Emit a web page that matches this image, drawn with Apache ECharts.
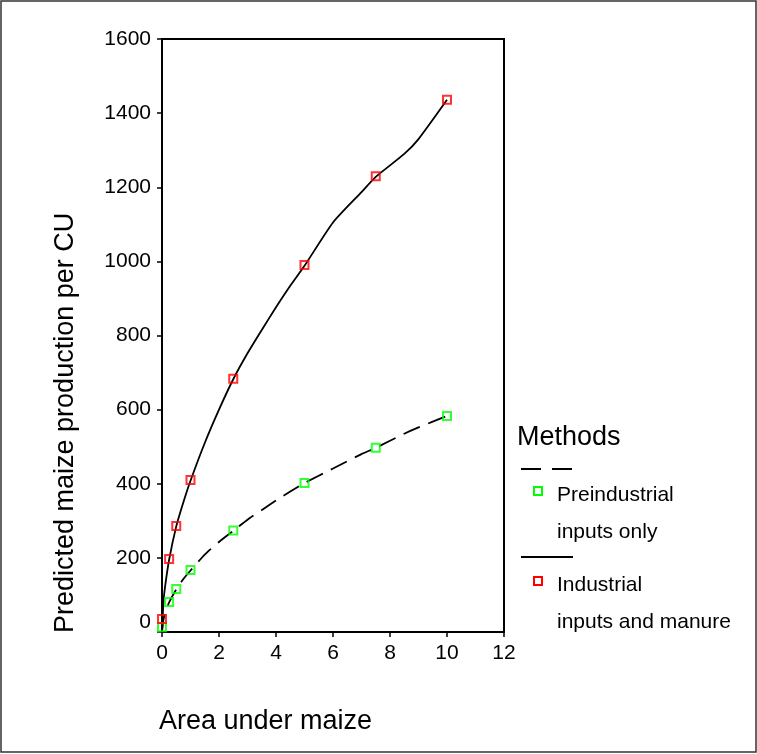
<!DOCTYPE html>
<html>
<head>
<meta charset="utf-8">
<script src="https://cdn.jsdelivr.net/npm/echarts@6/dist/echarts.min.js"></script>
<style>
html,body{margin:0;padding:0;background:#fff;}
#chart{width:757px;height:754px;}
</style>
</head>
<body>
<div id="chart"></div>
<script>
// Observed points
const xValues = [0, 0.25, 0.5, 1, 2.5, 5, 7.5, 10];
const industrial = [35, 197, 286, 410, 683, 990, 1230, 1436];
const preindustrial = [13, 81, 116, 167, 274, 402, 497, 583];
// Fitted curves
const fitX = [0, 0.05, 0.1, 0.25, 0.5, 0.75, 1, 1.5, 2, 2.5, 3, 3.5, 4, 4.5, 5, 6, 7, 7.5, 8.5, 9, 10];
const industrialFit = [0, 80, 118, 195, 285, 350, 408, 510, 600, 682, 752, 815, 876, 934, 988, 1105, 1187, 1228, 1290, 1330, 1436];
const preindustrialFit = [0, 33, 48, 80, 115, 143, 166, 209, 243, 273, 303, 329, 355, 379, 402, 441, 480, 497, 535, 552, 583];
// Axis ticks
const xTicks = [0, 2, 4, 6, 8, 10, 12];
const yTicks = [0, 200, 400, 600, 800, 1000, 1200, 1400, 1600];
const seriesNames = ['Preindustrial inputs only', 'Industrial inputs and manure'];

const FONT = "'Liberation Sans', Arial, sans-serif";
const pair = (xs, ys) => xs.map((x, i) => [x, ys[i]]);

const chart = echarts.init(document.getElementById('chart'), null, {renderer: 'canvas'});
chart.setOption({
  animation: false,
  backgroundColor: '#fff',
  textStyle: {fontFamily: FONT, color: '#000'},
  grid: {left: 162, top: 39, right: 253, bottom: 122, show: true, borderColor: '#000', borderWidth: 2, backgroundColor: 'transparent'},
  xAxis: {
    type: 'value', min: xTicks[0], max: xTicks[xTicks.length - 1], interval: 2,
    axisLine: {show: true, onZero: false, lineStyle: {color: '#000', width: 2}},
    axisTick: {show: true, length: 5, lineStyle: {color: '#000', width: 1.5}},
    axisLabel: {fontSize: 21, color: '#000', margin: 11, fontFamily: FONT},
    splitLine: {show: false}
  },
  yAxis: {
    type: 'value', min: yTicks[0], max: yTicks[yTicks.length - 1], interval: 200,
    axisLine: {show: true, onZero: false, lineStyle: {color: '#000', width: 2}},
    axisTick: {show: true, length: 5, lineStyle: {color: '#000', width: 1.5}},
    axisLabel: {
      fontSize: 21, color: '#000', margin: 11, fontFamily: FONT,
      formatter: v => v === 0 ? '{z|0}' : String(v),
      rich: {z: {fontSize: 21, fontFamily: FONT, color: '#000', padding: [0, 0, 20, 0]}}
    },
    splitLine: {show: false}
  },
  series: [
    {
      name: seriesNames[0] + ' fit', type: 'line', data: pair(fitX, preindustrialFit),
      smooth: 0.2, showSymbol: false, symbol: 'none',
      lineStyle: {color: '#000', width: 1.8, type: [18, 9]}, z: 2
    },
    {
      name: seriesNames[1] + ' fit', type: 'line', data: pair(fitX, industrialFit),
      smooth: 0.2, showSymbol: false, symbol: 'none',
      lineStyle: {color: '#000', width: 1.8}, z: 2
    },
    {
      name: seriesNames[0], type: 'scatter', data: pair(xValues, preindustrial),
      symbol: 'rect', symbolSize: 8,
      itemStyle: {color: 'rgba(0,0,0,0)', borderColor: '#00ff00', borderWidth: 2}, z: 5
    },
    {
      name: seriesNames[1], type: 'scatter', data: pair(xValues, industrial),
      symbol: 'rect', symbolSize: 8,
      itemStyle: {color: 'rgba(0,0,0,0)', borderColor: '#ff0000', borderWidth: 2}, z: 5
    }
  ],
  graphic: [
    {type: 'rect', shape: {x: 1, y: 1, width: 755, height: 751}, style: {fill: 'none', stroke: '#333', lineWidth: 1.5}, silent: true},
    {type: 'text', x: 66, y: 633, rotation: Math.PI / 2,
      style: {text: 'Predicted maize production per CU', font: '27px ' + FONT, fill: '#000', textAlign: 'left', textVerticalAlign: 'middle'}},
    {type: 'text', x: 159, y: 722,
      style: {text: 'Area under maize', font: '27px ' + FONT, fill: '#000', textAlign: 'left', textVerticalAlign: 'middle'}},
    {type: 'text', x: 517, y: 438,
      style: {text: 'Methods', font: '27px ' + FONT, fill: '#000', textAlign: 'left', textVerticalAlign: 'middle'}},
    {type: 'line', shape: {x1: 521, y1: 469, x2: 573, y2: 469}, style: {stroke: '#000', lineWidth: 1.8, lineDash: [20, 11]}},
    {type: 'rect', shape: {x: 534, y: 487, width: 8, height: 8}, style: {fill: 'none', stroke: '#00ff00', lineWidth: 2}},
    {type: 'text', x: 557, y: 495,
      style: {text: 'Preindustrial', font: '21px ' + FONT, fill: '#000', textAlign: 'left', textVerticalAlign: 'middle'}},
    {type: 'text', x: 557, y: 532,
      style: {text: 'inputs only', font: '21px ' + FONT, fill: '#000', textAlign: 'left', textVerticalAlign: 'middle'}},
    {type: 'line', shape: {x1: 521, y1: 557, x2: 573, y2: 557}, style: {stroke: '#000', lineWidth: 1.8}},
    {type: 'rect', shape: {x: 534, y: 577, width: 8, height: 8}, style: {fill: 'none', stroke: '#ff0000', lineWidth: 2}},
    {type: 'text', x: 557, y: 585,
      style: {text: 'Industrial', font: '21px ' + FONT, fill: '#000', textAlign: 'left', textVerticalAlign: 'middle'}},
    {type: 'text', x: 557, y: 622,
      style: {text: 'inputs and manure', font: '21px ' + FONT, fill: '#000', textAlign: 'left', textVerticalAlign: 'middle'}}
  ]
});
</script>
</body>
</html>
